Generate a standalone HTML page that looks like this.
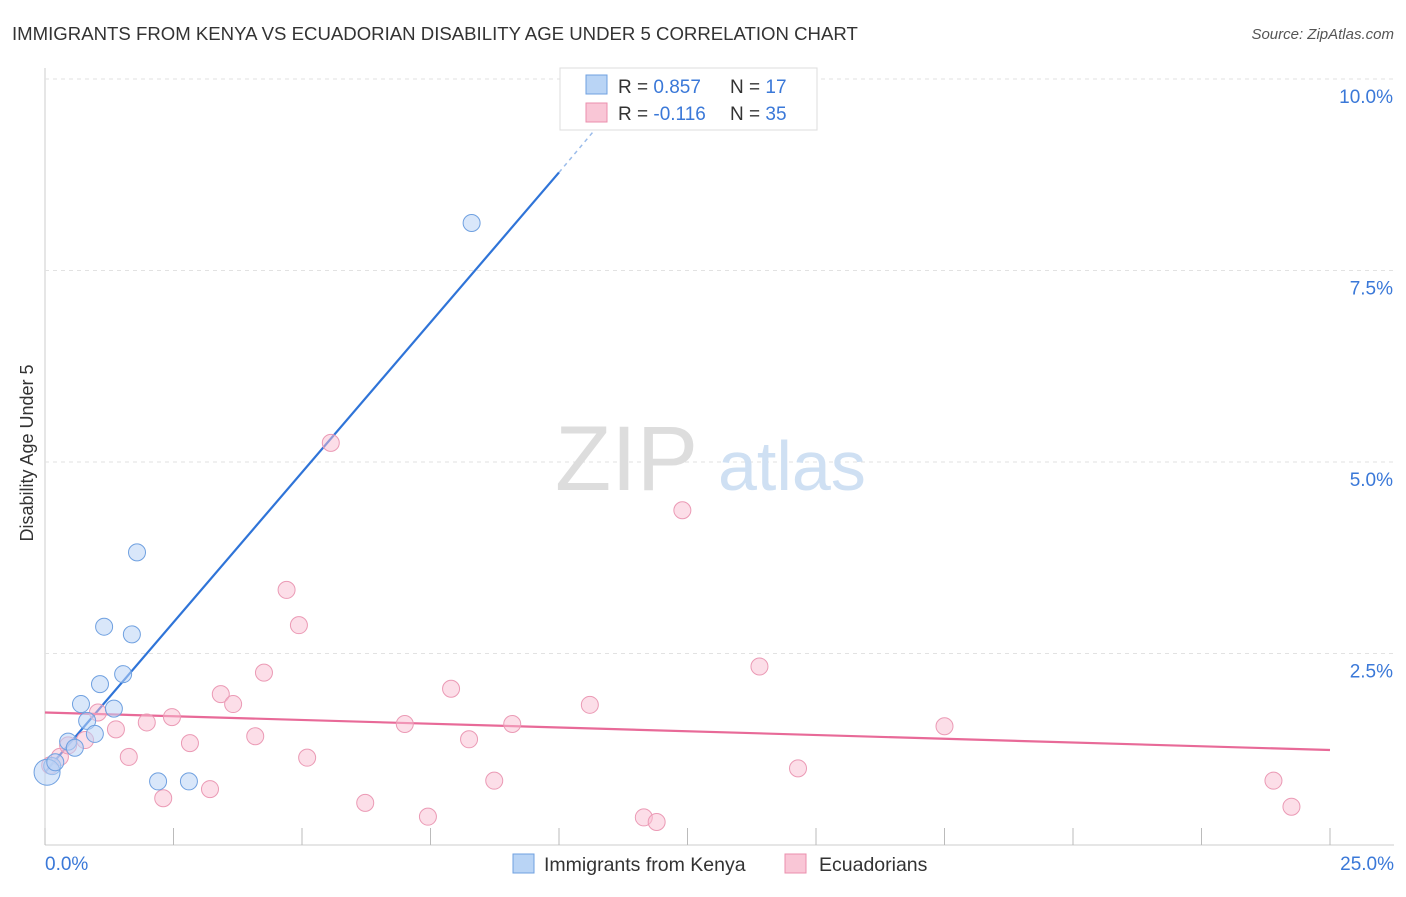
<!DOCTYPE html>
<html><head><meta charset="utf-8"><style>
body{margin:0;background:#fff;font-family:"Liberation Sans",sans-serif;}
svg text{font-family:"Liberation Sans",sans-serif;}
</style></head><body>
<svg id="chart" width="1406" height="892">
<text x="12" y="40" font-size="18.6" fill="#333">IMMIGRANTS FROM KENYA VS ECUADORIAN DISABILITY AGE UNDER 5 CORRELATION CHART</text>
<text x="1394" y="39" font-size="15" fill="#555" font-style="italic" text-anchor="end">Source: ZipAtlas.com</text>
<g id="grid"></g>
<text x="555" y="490" font-size="92" fill="#ddd" font-family="Liberation Serif">ZIP</text>
<text x="718" y="490" font-size="70" fill="#cfe0f3">atlas</text>
<text transform="translate(33,453) rotate(-90)" font-size="18" fill="#333" text-anchor="middle">Disability Age Under 5</text>
<g id="lines"></g>
<g id="pts"></g>
<g>
<rect x="560" y="68" width="257" height="62" fill="#fff" stroke="#ddd"/>
<rect x="586" y="75" width="21" height="19" fill="#b9d4f5" stroke="#6fa0e0"/>
<rect x="586" y="103" width="21" height="19" fill="#f9c6d6" stroke="#eb8fad"/>
<text x="618" y="93" font-size="19" fill="#333">R = <tspan fill="#3a78d8">0.857</tspan></text>
<text x="730" y="93" font-size="19" fill="#333">N = <tspan fill="#3a78d8">17</tspan></text>
<text x="618" y="120" font-size="19" fill="#333">R = <tspan fill="#3a78d8">-0.116</tspan></text>
<text x="730" y="120" font-size="19" fill="#333">N = <tspan fill="#3a78d8">35</tspan></text>
</g>
<g>
<rect x="513" y="854" width="21" height="19" fill="#b9d4f5" stroke="#6fa0e0"/>
<text x="544" y="871" font-size="19.5" fill="#333">Immigrants from Kenya</text>
<rect x="785" y="854" width="21" height="19" fill="#f9c6d6" stroke="#eb8fad"/>
<text x="819" y="871" font-size="19.5" fill="#333">Ecuadorians</text>
</g>
</svg>
<script>
const yTicks=[2.5,5.0,7.5,10.0];
const yTickLabels=["2.5%","5.0%","7.5%","10.0%"];
const xTicks=[0,2.5,5,7.5,10,12.5,15,17.5,20,22.5,25];
const kenyaX=[0.14,0.04,0.2,0.45,0.58,0.7,0.82,0.97,1.07,1.15,1.34,1.52,1.69,1.79,2.2,2.8,8.3];
const kenyaY=[1.03,0.95,1.08,1.35,1.27,1.84,1.62,1.45,2.1,2.85,1.78,2.23,2.75,3.82,0.83,0.83,8.12];
const ecuX=[0.1,0.29,0.45,0.78,1.03,1.38,1.63,1.98,2.3,2.47,2.82,3.21,3.42,3.66,4.09,4.26,4.7,4.94,5.1,5.56,6.23,7.0,7.45,7.9,8.25,8.74,9.09,10.6,11.65,11.9,12.4,13.9,14.65,17.5,23.9,24.25];
const ecuY=[1.04,1.15,1.3,1.37,1.73,1.51,1.15,1.6,0.61,1.67,1.33,0.73,1.97,1.84,1.42,2.25,3.33,2.87,1.14,5.25,0.55,1.58,0.37,2.04,1.38,0.84,1.58,1.83,0.36,0.3,4.37,2.33,1.0,1.55,0.84,0.5];
const kenyaLine=[[0.0,0.95],[10.0,8.78]];
const kenyaLineExt=[[10.0,8.78],[10.9,9.5]];
const ecuLine=[[0,1.73],[25,1.24]];
const X=v=>45+v*51.4, Y=v=>845-v*76.6;
const NS="http://www.w3.org/2000/svg";
function mk(p,t,a){const e=document.createElementNS(NS,t);for(const k in a)e.setAttribute(k,a[k]);p.appendChild(e);return e;}
const g=document.getElementById('grid');
mk(g,'line',{x1:45,y1:845,x2:1394,y2:845,stroke:'#ccc'});
mk(g,'line',{x1:45,y1:68,x2:45,y2:845,stroke:'#ccc'});
yTicks.forEach((t,i)=>{
 const l=mk(g,'line',{x1:45,y1:Y(t),x2:1394,y2:Y(t),stroke:'#e2e2e2','stroke-dasharray':'4,4'});
 
 
 const tx=mk(g,'text',{x:1393,y:Y(t)+24,'font-size':19,fill:'#3a78d8','text-anchor':'end'});
 tx.textContent=yTickLabels[i];
 
 
});
xTicks.forEach(t=>{
 const l=mk(g,'line',{x1:X(t),y1:828,x2:X(t),y2:845,stroke:'#bbb'});
 
 
});
const x0=mk(g,'text',{x:45,y:870,'font-size':19,fill:'#3a78d8'});x0.textContent='0.0%';


const x1=mk(g,'text',{x:1394,y:870,'font-size':19,fill:'#3a78d8','text-anchor':'end'});x1.textContent='25.0%';


const pg=document.getElementById('pts');
ecuX.forEach((v,i)=>{
 const c=mk(pg,'circle',{cx:X(v),cy:Y(ecuY[i]),r:8.5,fill:'rgba(249,190,210,0.5)',stroke:'#eb9ab5','stroke-width':1});
 
 
});
kenyaX.forEach((v,i)=>{
 const c=mk(pg,'circle',{cx:X(v),cy:Y(kenyaY[i]),r:i==1?13:8.5,fill:'rgba(185,212,245,0.55)',stroke:'#6fa0e0','stroke-width':1});
 
 
});
const lg=document.getElementById('lines');
const b=mk(lg,'line',{x1:X(kenyaLine[0][0]),y1:Y(kenyaLine[0][1]),x2:X(kenyaLine[1][0]),y2:Y(kenyaLine[1][1]),stroke:'#2f74d8','stroke-width':2.2});


const be=mk(lg,'line',{x1:X(kenyaLineExt[0][0]),y1:Y(kenyaLineExt[0][1]),x2:X(kenyaLineExt[1][0]),y2:Y(kenyaLineExt[1][1]),stroke:'#9bbcea','stroke-width':1.5,'stroke-dasharray':'4,4'});


const p=mk(lg,'line',{x1:X(ecuLine[0][0]),y1:Y(ecuLine[0][1]),x2:X(ecuLine[1][0]),y2:Y(ecuLine[1][1]),stroke:'#e86a98','stroke-width':2.2});


</script>
</body></html>
